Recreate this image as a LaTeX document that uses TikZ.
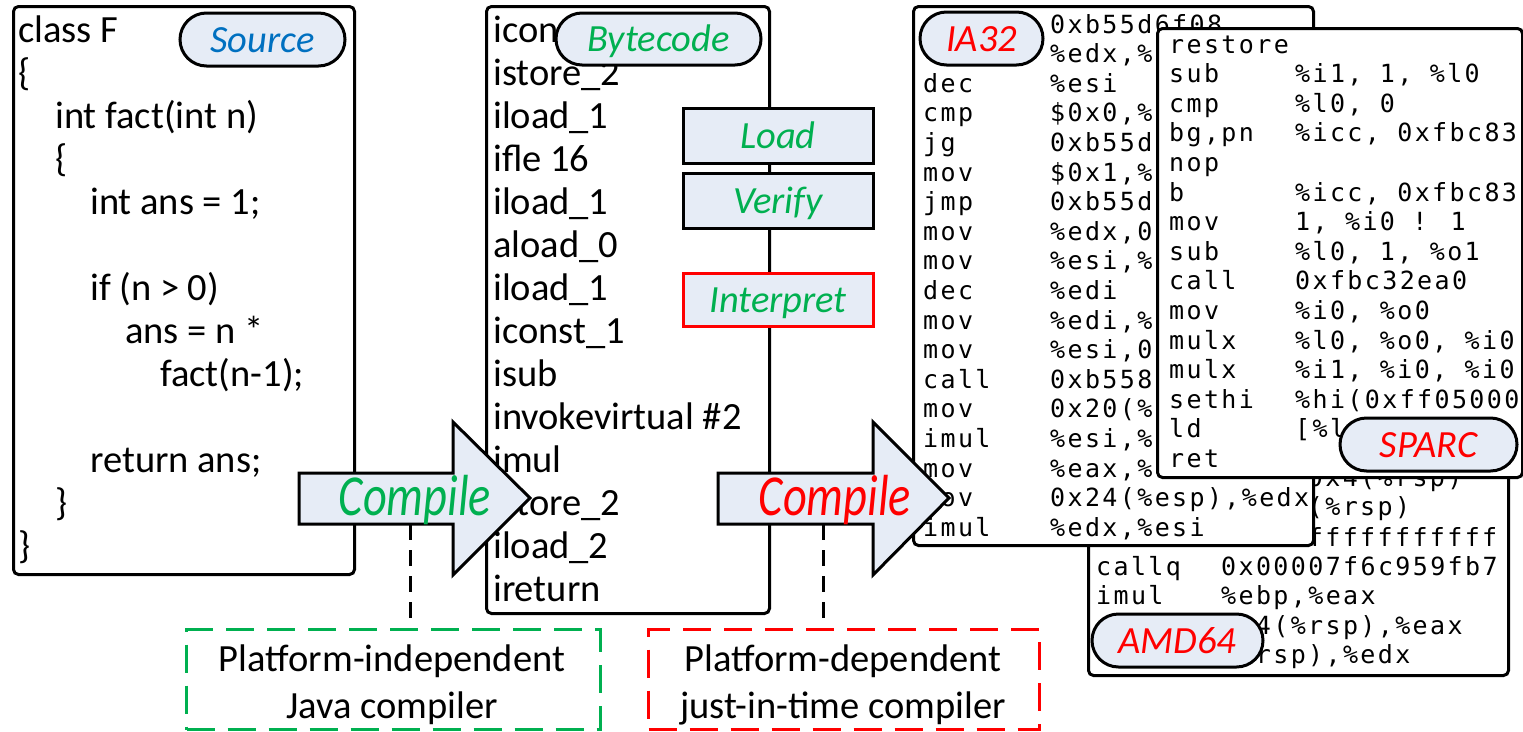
\documentclass[tikz,border=0pt]{standalone}
\usepackage{fontspec}
\setmainfont{Carlito}
\newfontfamily\asmfam[LetterSpace=9.5]{DejaVu Sans Mono}
\usetikzlibrary{shapes.misc}
\definecolor{pillfill}{HTML}{E6ECF6}
\definecolor{srcblue}{HTML}{0070C0}
\definecolor{okgreen}{HTML}{00B050}
\definecolor{alarm}{HTML}{FF0000}
\newcommand\myBody{\fontsize{38.5}{43}\selectfont}
\newcommand\myAsm{\asmfam\fontsize{25}{27}\selectfont}
\begin{document}
\begin{tikzpicture}[x=1pt,y=-1pt,
  codebox/.style={draw=black,line width=3pt,fill=white,rounded corners=5pt,inner sep=0pt,anchor=north west},
  pill/.style={shape=rounded rectangle,draw=black,line width=3pt,fill=pillfill,inner sep=0pt,
     text height=25pt,text depth=0pt,font=\myBody\itshape},
  stagebox/.style={draw=black,line width=3pt,fill=pillfill,inner sep=0pt,minimum width=190pt,
     text height=25pt,text depth=0pt,font=\myBody\itshape,text=okgreen},
  srcline/.style={anchor=base west,inner sep=0pt,font=\myBody},
  asmline/.style={anchor=base west,inner sep=0pt,font=\myAsm},
  blockarrow/.style={draw=black,line width=3pt,fill=pillfill,line join=miter},
  dashline/.style={draw=black,line width=3pt,dash pattern=on 16pt off 10pt},
  dbox/.style={line width=3pt,dash pattern=on 28pt off 13pt,inner sep=0pt,anchor=north west}]
\useasboundingbox (0,0) rectangle (1523,731);
\fill[white] (0,0) rectangle (1523,731);

% ---------- Source ----------
\node[codebox,minimum width=341pt,minimum height=568pt] (src) at (12,5) {};
\foreach \x/\k/\t in {18/0/class F, 18/1/\{, 55/2/int fact(int n), 55/3/\{, 90/4/int ans = 1;,
   90/6/if (n > 0), 125/7/ans = n *, 160/8/fact(n-1);, 90/10/return ans;, 55/11/\}, 18/12/\}}
  \node[srcline] (src-\k) at (\x,42+43*\k) {\t};
\node[pill,minimum width=165pt,minimum height=53pt,text=srcblue] (srclabel) at (262.5,39.5) {Source};

% ---------- Bytecode ----------
\node[codebox,minimum width=283pt,minimum height=607pt] (bc) at (485,5) {};
\foreach \t [count=\k from 0] in {icon, istore\_2, iload\_1, ifle 16, iload\_1, aload\_0, iload\_1,
   iconst\_1, isub, invokevirtual \#2, imul, istore\_2, iload\_2, ireturn}
  \node[srcline] (bc-\k) at (493,42+43*\k) {\t};
\node[pill,minimum width=205pt,minimum height=52pt,text=okgreen] (bclabel) at (658.5,39) {Bytecode};
\node[stagebox,minimum height=55pt] (load) at (778,135.5) {Load};
\node[stagebox,minimum height=55pt] (verify) at (778,200.5) {Verify};
\node[stagebox,minimum height=53pt,draw=alarm] (interp) at (778,299.5) {Interpret};

% ---------- AMD64 (back) ----------
\node[codebox,minimum width=420pt,minimum height=634pt] (amd) at (1087,40) {};
% visible parts only (columns: mnemonic 1096, operand 1221, 17.35 per character)
\node[asmline] (amdo-0) at (1307.75,486.2) {0x4(\%rsp)};
\node[asmline] (amdo-1) at (1307.75,515.8) {(\%rsp)};
\node[asmline] (amdo-2) at (1307.75,546.4) {fffffffffff};
\node[asmline] (amdm-3) at (1096,575) {callq};
\node[asmline] (amdo-3) at (1221,575) {0x00007f6c959fb7};
\node[asmline] (amdm-4) at (1096,604.6) {imul};
\node[asmline] (amdo-4) at (1221,604.6) {\%ebp,\%eax};
\node[asmline] (amdo-5) at (1255.7,634.2) {4(\%rsp),\%eax};
\node[asmline] (amdo-6) at (1255.7,663.8) {rsp),\%edx};
\node[pill,minimum width=171pt,minimum height=53pt,text=alarm] (amdlabel) at (1177.5,640.5) {AMD64};

% ---------- IA32 ----------
\node[codebox,minimum width=400pt,minimum height=539pt] (ia) at (912,5) {};
\foreach \k/\m/\o in {0/{}/0xb55d6f08, 1/{}/{\%edx,\%}, 2/dec/\%esi, 3/cmp/{\$0x0,\%},
   4/jg/0xb55d, 5/mov/{\$0x1,\%}, 6/jmp/0xb55d, 7/mov/{\%edx,0}, 8/mov/{\%esi,\%},
   9/dec/\%edi, 10/mov/{\%edi,\%}, 11/mov/{\%esi,0}, 12/call/0xb558, 13/mov/{0x20(\%},
   14/imul/{\%esi,\%}, 15/mov/{\%eax,\%}, 16/mov/{0x24(\%esp),\%edx}, 17/imul/{\%edx,\%esi}}
  {\node[asmline] (iam-\k) at (923,33+29.6*\k) {\m};
   \node[asmline] (iao-\k) at (1050,33+29.6*\k) {\o};}
\node[pill,minimum width=123pt,minimum height=53pt,text=alarm] (ialabel) at (981.5,38.5) {IA32};

% ---------- SPARC ----------
\node[codebox,minimum width=365pt,minimum height=449pt] (sp) at (1156,27) {};
\foreach \k/\m/\o in {0/restore/{}, 1/sub/{\%i1, 1, \%l0}, 2/cmp/{\%l0, 0}, 3/{bg,pn}/{\%icc, 0xfbc83},
   4/nop/{}, 5/b/{\%icc, 0xfbc83}, 6/mov/{1, \%i0 ! 1}, 7/sub/{\%l0, 1, \%o1}, 8/call/0xfbc32ea0,
   9/mov/{\%i0, \%o0}, 10/mulx/{\%l0, \%o0, \%i0}, 11/mulx/{\%i1, \%i0, \%i0},
   12/sethi/{\%hi(0xff05000}, 13/ld/{[\%l}, 14/ret/{}}
  {\node[asmline] (spm-\k) at (1169,53+29.6*\k) {\m};
   \node[asmline] (spo-\k) at (1295,53+29.6*\k) {\o};}
\node[pill,minimum width=177pt,minimum height=53pt,text=alarm] (splabel) at (1428.5,444.5) {SPARC};

% ---------- Compile arrows ----------
\draw[blockarrow] (299,473) -- (453,473) -- (453,422) -- (530,498) -- (453,575) -- (453,524) -- (299,524) -- cycle;
\node[anchor=base,inner sep=0pt] (comp1) at (415,515)
  {\scalebox{0.8}[1]{\fontsize{58}{60}\selectfont\itshape\color{okgreen}Compile}};
\draw[blockarrow] (718,473) -- (873,473) -- (873,422) -- (949,498) -- (873,575) -- (873,524) -- (718,524) -- cycle;
\node[anchor=base,inner sep=0pt] (comp2) at (835,515)
  {\scalebox{0.8}[1]{\fontsize{58}{60}\selectfont\itshape\color{alarm}Compile}};

% ---------- compiler boxes ----------
\node[dbox,draw=okgreen,minimum width=414pt,minimum height=100pt] (jc) at (185,628) {};
\node[anchor=base,inner sep=0pt,font=\myBody] (jc1) at (392,671) {Platform-independent};
\node[anchor=base,inner sep=0pt,font=\myBody] (jc2) at (392,718) {Java compiler};
\node[dbox,draw=alarm,minimum width=391pt,minimum height=100pt] (jit) at (647,628) {};
\node[anchor=base,inner sep=0pt,font=\myBody] (jit1) at (843,671) {Platform-dependent};
\node[anchor=base,inner sep=0pt,font=\myBody] (jit2) at (843,718) {just-in-time compiler};

\coordinate (a1foot) at (410,524);
\coordinate (a2foot) at (823,524);
\draw[dashline] (a1foot) -- (a1foot |- jc.north);
\draw[dashline] (a2foot) -- (a2foot |- jit.north);
\end{tikzpicture}
\end{document}
